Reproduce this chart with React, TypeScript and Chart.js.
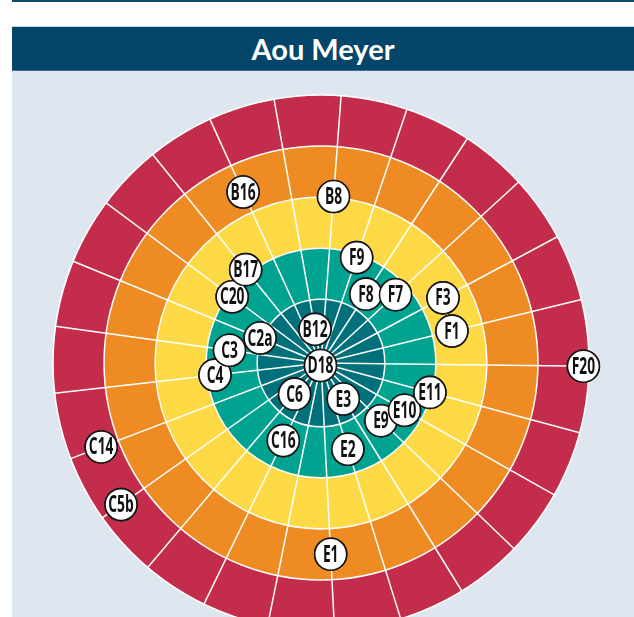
import React, { useEffect, useRef } from 'react';
import { Chart, registerables } from 'chart.js';

Chart.register(...registerables);

const TITLE = 'Aou Meyer';

// categories, clockwise from the top
const labels = [
  'B8', 'F9', 'F8', 'F7', 'F3', 'F1', 'F20', 'E11', 'E10', 'E9', 'E3', 'E2', 'E1',
  'D18', 'C16', 'C6', 'C5b', 'C14', 'C4', 'C3', 'C2a', 'C20', 'B17', 'B16', 'B12',
];
const values = [
  3.02, 1.93, 1.36, 1.73, 2.46, 2.39, 4.89, 1.96, 1.63, 1.38, 0.58, 1.52, 3.5,
  -0.2, 1.44, 0.55, 4.55, 4.36, 1.84, 1.56, 1.04, 1.92, 2.1, 3.43, 0.42,
];

// concentric bands (outer value of each band)
const bandValues = [5, 4, 3, 2, 1];
const bandColors = ['#c42c4b', '#ee8b22', '#fdda45', '#00a290', '#00717b'];
const scaleMin = -0.25;
const scaleMax = 5;

// label stacking order (later drawn on top)
const drawOrder = [
  'B8', 'F9', 'F8', 'F7', 'F3', 'F1', 'F20', 'E9', 'E10', 'E11', 'E3', 'E2', 'E1',
  'D18', 'C16', 'C6', 'C5b', 'C14', 'C4', 'C3', 'C2a', 'C20', 'B17', 'B16', 'B12',
];

const LABEL_FONT = 'bold 23px "Open Sans", "DejaVu Sans", sans-serif';
const LABEL_SQUEEZE = 0.6;
const MARK_R = 16;

const bandsPlugin = {
  id: 'bands',
  beforeDraw(chart: any) {
    const s = chart.scales.r;
    const ctx = chart.ctx;
    ctx.save();
    bandValues.forEach((v, i) => {
      const r = s.getDistanceFromCenterForValue(v);
      ctx.beginPath();
      ctx.arc(s.xCenter, s.yCenter, r, 0, Math.PI * 2);
      ctx.fillStyle = bandColors[i];
      ctx.fill();
    });
    ctx.restore();
  },
};

const labelPlugin = {
  id: 'pointText',
  afterDatasetsDraw(chart: any) {
    const meta = chart.getDatasetMeta(0);
    const ctx = chart.ctx;
    drawOrder.forEach((name) => {
      const i = labels.indexOf(name);
      const el = meta.data[i];
      if (!el) return;
      ctx.save();
      ctx.beginPath();
      ctx.arc(el.x, el.y, MARK_R, 0, Math.PI * 2);
      ctx.fillStyle = '#ffffff';
      ctx.fill();
      ctx.lineWidth = 1.6;
      ctx.strokeStyle = '#161616';
      ctx.stroke();
      ctx.translate(el.x, el.y);
      ctx.scale(LABEL_SQUEEZE, 1);
      ctx.fillStyle = '#111111';
      ctx.font = LABEL_FONT;
      ctx.textAlign = 'center';
      ctx.textBaseline = 'middle';
      ctx.fillText(name, 0, 1);
      ctx.restore();
    });
  },
};

export default function App() {
  const ref = useRef<HTMLCanvasElement | null>(null);

  useEffect(() => {
    if (!ref.current) return;
    const chart = new Chart(ref.current, {
      type: 'radar',
      data: {
        labels,
        datasets: [
          {
            data: values,
            showLine: false,
            fill: false,
            borderWidth: 0,
            pointRadius: MARK_R,
            pointHoverRadius: MARK_R,
            pointBackgroundColor: '#ffffff',
            pointBorderColor: '#161616',
            pointBorderWidth: 1.6,
          },
        ],
      },
      options: {
        responsive: false,
        animation: false,
        layout: { padding: { top: 24 } },
        plugins: { legend: { display: false }, tooltip: { enabled: false } },
        scales: {
          r: {
            min: scaleMin,
            max: scaleMax,
            startAngle: 4.3,
            afterBuildTicks: (scale: any) => {
              scale.ticks = [...bandValues].sort((a, b) => a - b).map((v) => ({ value: v }));
            },
            ticks: { display: false },
            pointLabels: { display: false },
            grid: { circular: true, color: '#ffffff', lineWidth: 1.5 },
            angleLines: { display: true, color: '#ffffff', lineWidth: 1.5 },
          },
        },
      },
      plugins: [bandsPlugin, labelPlugin],
    } as any);
    return () => chart.destroy();
  }, []);

  return (
    <div
      style={{
        position: 'fixed',
        left: 0,
        top: 0,
        width: 634,
        height: 617,
        overflow: 'hidden',
        background: '#ffffff',
      }}
    >
      <div style={{ position: 'absolute', left: 12, top: 0, width: 622, height: 2, background: '#0f4b6d' }} />
      <div style={{ position: 'absolute', left: 12, top: 26, width: 622, height: 1, background: '#c9d5df' }} />
      <div
        style={{
          position: 'absolute',
          left: 12,
          top: 27,
          width: 622,
          height: 43,
          background: '#03466a',
          color: '#ffffff',
          font: 'bold 29px Lato, "Open Sans", sans-serif',
          display: 'flex',
          alignItems: 'center',
          justifyContent: 'center',
        }}
      >
        {TITLE}
      </div>
      <div style={{ position: 'absolute', left: 12, top: 70, width: 622, height: 1, background: '#3a6f90' }} />
      <div style={{ position: 'absolute', left: 12, top: 71, width: 622, height: 546, background: '#dee6ef' }} />
      <canvas
        ref={ref}
        width={618}
        height={560}
        style={{ position: 'absolute', left: 12, top: 71, width: 618, height: 560 }}
      />
    </div>
  );
}
